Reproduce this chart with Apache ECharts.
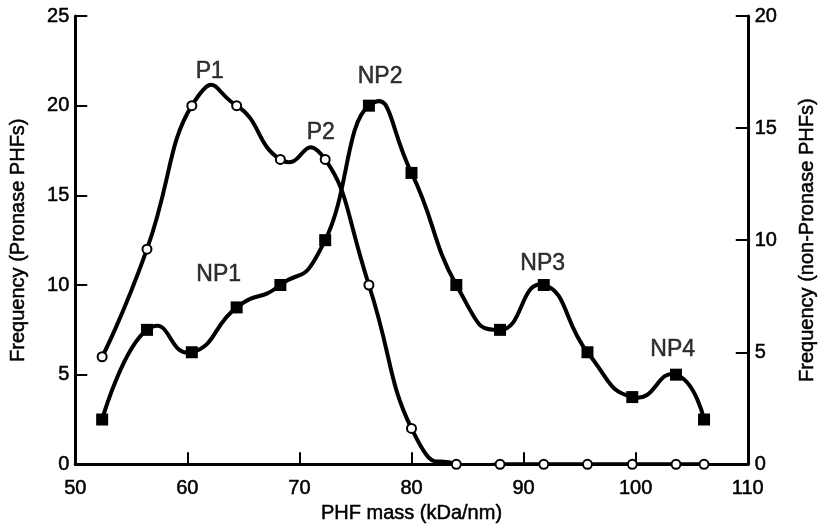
<!DOCTYPE html>
<html>
<head>
<meta charset="utf-8">
<script src="https://cdn.jsdelivr.net/npm/echarts@6/dist/echarts.min.js"></script>
<style>html,body{margin:0;padding:0;background:#fff}#c{width:826px;height:529px}</style>
</head>
<body>
<div id="c"></div>
<script>
// Bin centres (PHF mass, kDa/nm)
const massBins = [52.4, 56.4, 60.4, 64.4, 68.3, 72.3, 76.2, 80.0, 84.0, 87.9, 91.8, 95.7, 99.7, 103.6, 106.1];
// Frequency, Pronase-treated PHFs (left axis)
const pronase = [6, 12, 20, 20, 17, 17, 10, 2, 0, 0, 0, 0, 0, 0, 0];
// Frequency, non-Pronase PHFs (right axis)
const nonPronase = [2, 6, 5, 7, 8, 10, 16, 13, 8, 6, 8, 5, 3, 4, 2];
// Peak annotations (positions in left-axis data units)
const peakLabels = ['P1', 'P2', 'NP1', 'NP2', 'NP3', 'NP4'];
const peakX = [62.0, 71.9, 62.8, 77.2, 91.7, 103.3];
const peakY = [21.9, 18.5, 10.6, 21.6, 11.2, 6.4];
// Axis ticks
const xTicks = {min: 50, max: 110, step: 10};
const leftTicks = {min: 0, max: 25, step: 5};
const rightTicks = {min: 0, max: 20, step: 5};

const FONT = '"Liberation Sans", Arial, Helvetica, sans-serif';
const TEXT = {color: '#000', fontFamily: FONT, textBorderColor: '#000', textBorderWidth: 0.5};
const axisCommon = {
  axisLine: {show: true, lineStyle: {color: '#000', width: 3}},
  axisTick: {show: true, inside: true, length: 12, lineStyle: {color: '#000', width: 2}},
  axisLabel: Object.assign({fontSize: 20}, TEXT),
  splitLine: {show: false},
  nameTextStyle: Object.assign({fontSize: 20}, TEXT)
};

// Smooth curve through the data points (cardinal-spline style bezier tangents)
const TENSION = 0.27;
function curveSeries(xs, ys, yAxisIndex) {
  return {
    type: 'custom', yAxisIndex: yAxisIndex, clip: true, silent: true, z: 1,
    data: xs.map((x, i) => [x, ys[i]]),
    renderItem: function (params, api) {
      if (params.dataIndex !== 0) return null;
      const pts = xs.map((x, i) => api.coord([x, ys[i]]));
      const n = pts.length;
      const cin = [], cout = [];
      for (let k = 0; k < n; k++) {
        const p = pts[k];
        if (k === 0 || k === n - 1) { cin.push(p); cout.push(p); continue; }
        const pr = pts[k - 1], nx = pts[k + 1];
        const vx = (nx[0] - pr[0]) * TENSION, vy = (nx[1] - pr[1]) * TENSION;
        cin.push([p[0] - vx, p[1] - vy]);
        cout.push([p[0] + vx, p[1] + vy]);
      }
      const children = [];
      for (let k = 0; k < n - 1; k++) {
        children.push({
          type: 'bezierCurve',
          shape: {x1: pts[k][0], y1: pts[k][1], x2: pts[k + 1][0], y2: pts[k + 1][1],
            cpx1: cout[k][0], cpy1: cout[k][1], cpx2: cin[k + 1][0], cpy2: cin[k + 1][1]},
          style: {stroke: '#000', lineWidth: 4, fill: null, lineCap: 'round', lineJoin: 'round'}
        });
      }
      return {type: 'group', children: children};
    }
  };
}

const chart = echarts.init(document.getElementById('c'), null, {renderer: 'canvas'});
chart.setOption({
  animation: false,
  backgroundColor: '#fff',
  grid: {left: 66, right: 64, top: 16, bottom: 64, containLabel: false},
  xAxis: Object.assign({}, axisCommon, {
    type: 'value', min: xTicks.min, max: xTicks.max, interval: xTicks.step,
    name: 'PHF mass (kDa/nm)', nameLocation: 'middle', nameGap: 38,
    axisLabel: Object.assign({}, axisCommon.axisLabel, {margin: 14})
  }),
  yAxis: [
    Object.assign({}, axisCommon, {
      type: 'value', position: 'left', min: leftTicks.min, max: leftTicks.max, interval: leftTicks.step,
      name: 'Frequency (Pronase PHFs)', nameLocation: 'middle', nameGap: 47, nameRotate: 90,
      axisLabel: Object.assign({}, axisCommon.axisLabel, {margin: 6})
    }),
    Object.assign({}, axisCommon, {
      type: 'value', position: 'right', min: rightTicks.min, max: rightTicks.max, interval: rightTicks.step,
      name: 'Frequency (non-Pronase PHFs)', nameLocation: 'middle', nameGap: 50, nameRotate: 90,
      axisLabel: Object.assign({}, axisCommon.axisLabel, {margin: 7})
    })
  ],
  series: [
    curveSeries(massBins, nonPronase, 1),
    curveSeries(massBins, pronase, 0),
    {
      type: 'scatter', yAxisIndex: 1, silent: true, z: 3,
      data: massBins.map((x, i) => [x, nonPronase[i]]),
      symbol: 'rect', symbolSize: 12,
      itemStyle: {color: '#000', opacity: 1}
    },
    {
      type: 'scatter', yAxisIndex: 0, silent: true, z: 4,
      data: massBins.map((x, i) => [x, pronase[i]]),
      symbol: 'circle', symbolSize: 9,
      itemStyle: {color: '#fff', borderColor: '#000', borderWidth: 2, opacity: 1}
    },
    {
      type: 'scatter', yAxisIndex: 0, symbolSize: 0, silent: true, z: 5,
      data: peakLabels.map((n, i) => ({name: n, value: [peakX[i], peakY[i]]})),
      label: Object.assign({show: true, position: 'inside', formatter: p => p.name, fontSize: 23}, TEXT)
    }
  ]
});
</script>
</body>
</html>
